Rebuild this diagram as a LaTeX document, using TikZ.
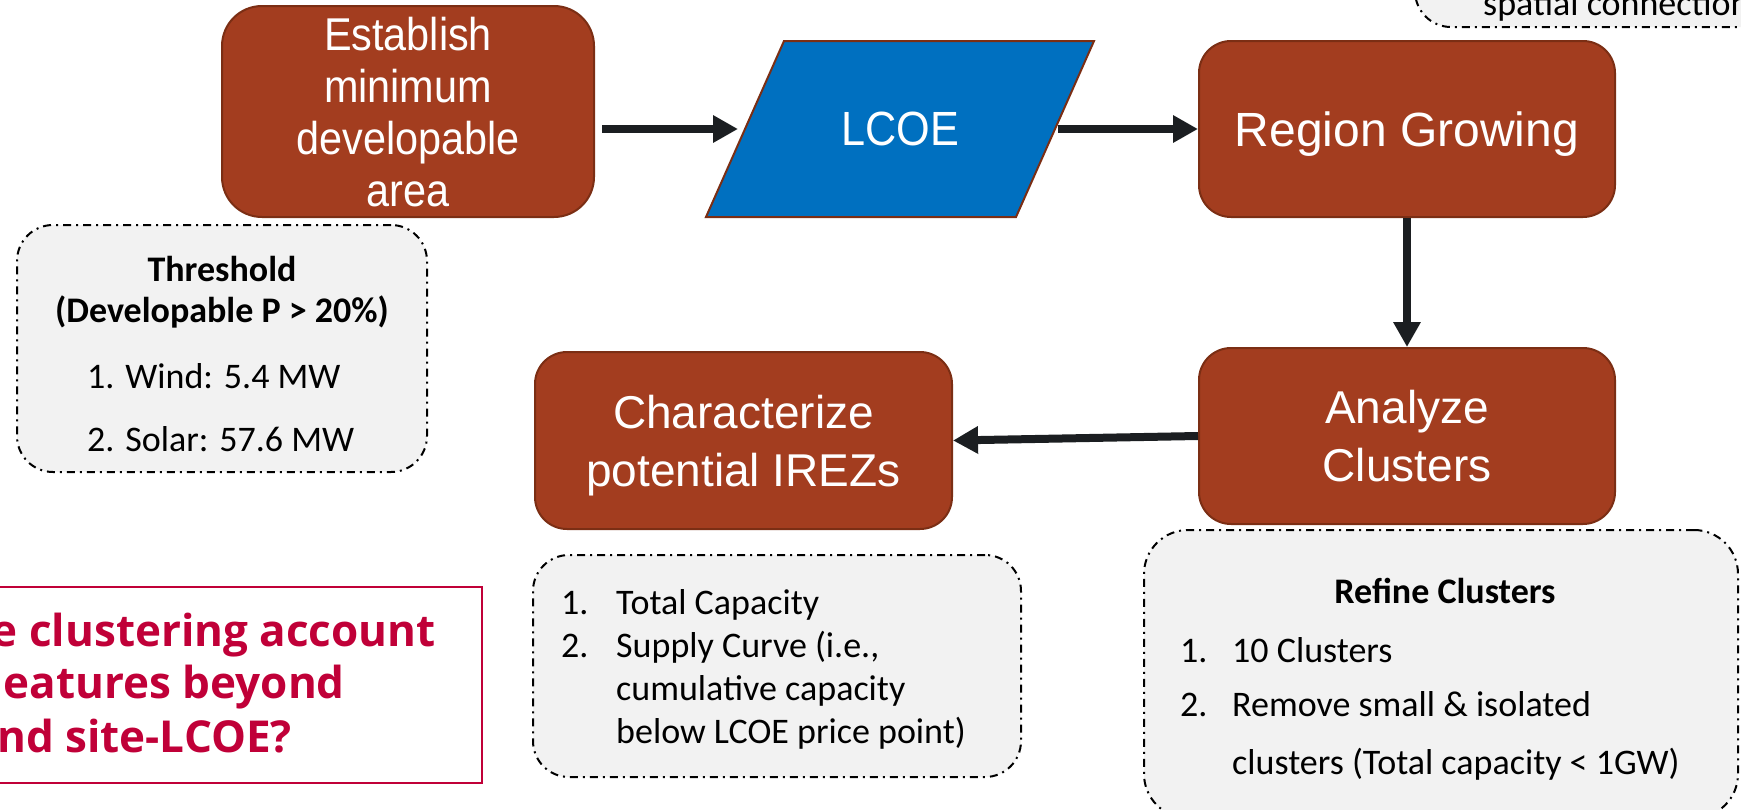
\documentclass[tikz,border=0pt]{standalone}
\usepackage{fontspec}
\setmainfont{Carlito}
\newfontfamily\arialf{Liberation Sans}
\newfontfamily\arialn[FakeStretch=0.9]{Liberation Sans}
\newfontfamily\segoe{Open Sans}
\usetikzlibrary{arrows.meta}
\definecolor{brownfill}{HTML}{A33D1F}
\definecolor{brownedge}{HTML}{7B2E14}
\definecolor{lblue}{HTML}{0070C0}
\definecolor{notegray}{HTML}{F2F2F2}
\definecolor{qred}{HTML}{C00038}
\definecolor{arrowc}{HTML}{1B1E21}
\begin{document}
\begin{tikzpicture}[x=1pt,y=-1pt,
  proc/.style={draw=brownedge, line width=2pt, fill=brownfill, rounded corners=32pt,
    text=white, font=\arialf\fontsize{46}{58}\selectfont, align=center, inner sep=0pt,
    text depth=0pt},
  note/.style={draw=black, line width=2pt, fill=notegray, rounded corners=36pt,
    dash pattern=on 8pt off 5pt on 2pt off 5pt, inner sep=0pt},
  ntext/.style={font=\fontsize{36}{44}\selectfont, anchor=base west, inner sep=0pt},
  nhead/.style={font=\bfseries\fontsize{36}{44}\selectfont, anchor=base, inner sep=0pt},
  qtext/.style={font=\segoe\bfseries\fontsize{44}{53}\selectfont, text=qred, anchor=base east, inner sep=0pt},
  flow/.style={draw=arrowc, line width=8pt, -{Triangle[length=25pt,width=26pt]}},
]
\useasboundingbox (0,0) rectangle (1741,809);
\clip (0,0) rectangle (1741,809);

% top-right partial note
\node[note, minimum width=400pt, minimum height=160pt] (sp) at (1615,-53) {};
\node[ntext] (sptxt) at (1483,15) {spatial connections};

% process boxes
\node[proc, minimum width=372pt, minimum height=211pt, rounded corners=40pt,
  font=\arialn\fontsize{46}{52}\selectfont] (est) at (408,111.5)
  {Establish\\minimum\\developable\\area};
\draw[draw=brownedge, line width=2pt, fill=lblue]
  (784,41) -- (1094,41) -- (1016,217) -- (706,217) -- cycle;
\node[text=white, inner sep=0pt, font=\arialn\fontsize{48}{58}\selectfont] (lcoe) at (900,129) {LCOE};
\coordinate (lcoeL) at (745,129);
\coordinate (lcoeR) at (1055,129);
\node[proc, minimum width=416pt, minimum height=176pt,
  font=\arialf\fontsize{48}{58}\selectfont] (reg) at (1407,129) {Region Growing};
\node[proc, minimum width=416pt, minimum height=176pt] (ana) at (1407,436) {Analyze\\Clusters};
\node[proc, minimum width=417pt, minimum height=177pt] (cha) at (743.5,440.5) {Characterize\\potential IREZs};

% arrows
\draw[flow, shorten <=7pt, shorten >=7pt] (est.east |- lcoeL) -- (lcoeL);
\draw[flow, shorten <=3pt] (lcoeR) -- (reg.west |- lcoeR);
\draw[flow] (reg.south) -- (ana.north);
\draw[flow] (ana.west) -- (cha.east);

% threshold note
\node[note, minimum width=410pt, minimum height=247pt] (thr) at (222,348.5) {};
\node[nhead] (thr1) at (222,281) {Threshold};
\node[nhead] (thr2) at (222,322) {(Developable P > 20\%)};
\node[ntext] (thr3) at (87,388) {1. Wind: 5.4 MW};
\node[ntext] (thr4) at (87,451) {2. Solar: 57.6 MW};

% characterize note
\node[note, minimum width=488pt, minimum height=222pt] (chn) at (777,666) {};
\node[ntext] (chn1n) at (561,614) {1.};
\node[ntext] (chn1) at (616,614) {Total Capacity};
\node[ntext] (chn2n) at (561,657) {2.};
\node[ntext] (chn2) at (616,657) {Supply Curve (i.e.,};
\node[ntext] (chn3) at (616,700) {cumulative capacity};
\node[ntext] (chn4) at (616,743) {below LCOE price point)};

% refine note
\node[note, minimum width=594pt, minimum height=288pt, rounded corners=44pt] (ref) at (1441,674) {};
\node[nhead] (ref0) at (1445,603) {Refine Clusters};
\node[ntext] (ref1n) at (1180,662) {1.};
\node[ntext] (ref1) at (1232,662) {10 Clusters};
\node[ntext] (ref2n) at (1180,716) {2.};
\node[ntext] (ref2) at (1232,716) {Remove small \& isolated};
\node[ntext] (ref3) at (1232,774) {clusters (Total capacity < 1GW)};

% question box
\node[draw=qred, line width=2pt, minimum width=500pt, minimum height=196pt, inner sep=0pt] (q) at (232,685) {};
\node[qtext] (q1) at (436,646) {e clustering account};
\node[qtext] (q2) at (345,698) {eatures beyond};
\node[qtext] (q3) at (292,752) {nd site-LCOE?};
\end{tikzpicture}
\end{document}
